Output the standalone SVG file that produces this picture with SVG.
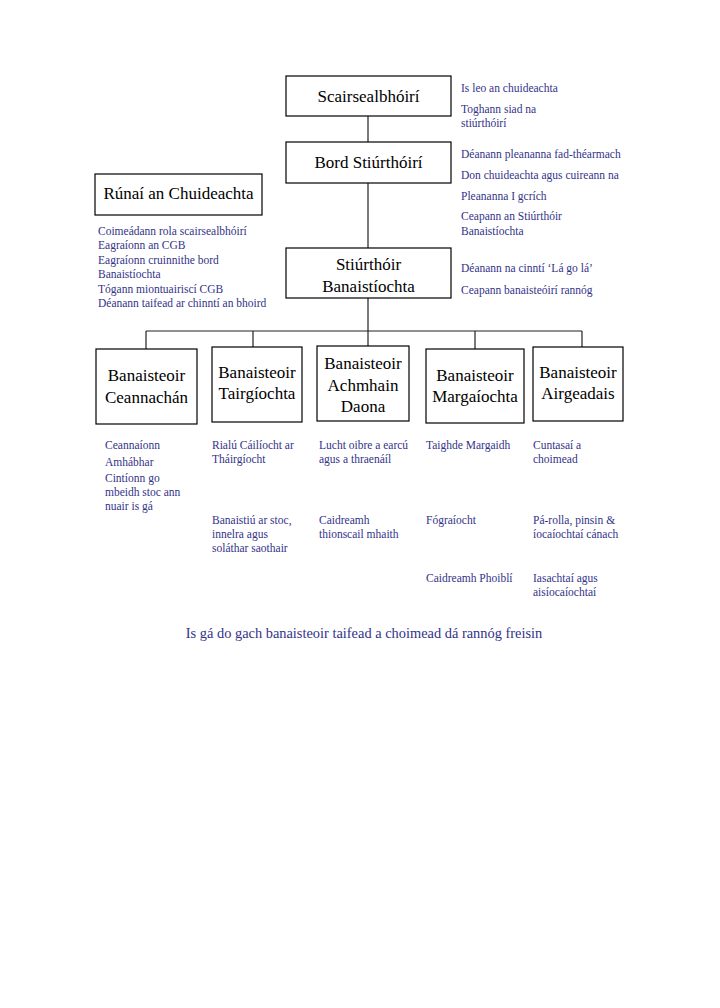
<svg xmlns="http://www.w3.org/2000/svg" width="720" height="1008" viewBox="0 0 720 1008">
<style>
.box{fill:#fff;stroke:#000;stroke-width:1.2}
.t{font-family:"Liberation Serif","Times New Roman",serif;font-size:17px;fill:#000;text-anchor:middle}
.n{font-family:"Liberation Serif","Times New Roman",serif;font-size:11.5px;fill:#333388}
.f{font-family:"Liberation Serif","Times New Roman",serif;font-size:14.4px;fill:#333388;text-anchor:middle}
.c{stroke:#222;stroke-width:1.2;fill:none}
</style>
<rect width="720" height="1008" fill="#fff"/>
<g id="connectors">
<path class="c" d="M368 116V142M368 183V248M368 298V331M146 331H582M146 331V349M253 331V347M368 331V346M475 331V349M582 331V347"/>
</g>
<g id="scairsealbhoiri"><rect class="box" x="286" y="76" width="165" height="40"/><text class="t" x="368.5" y="102">Scairsealbhóirí</text></g>
<g id="bord"><rect class="box" x="286" y="142" width="165" height="41"/><text class="t" x="368.5" y="168">Bord Stiúrthóirí</text></g>
<g id="runai"><rect class="box" x="95" y="174" width="167" height="41"/><text class="t" x="178.5" y="199">Rúnaí an Chuideachta</text></g>
<g id="stiurthoir"><rect class="box" x="286" y="248" width="165" height="50"/><text class="t" x="368.5" y="270">Stiúrthóir</text><text class="t" x="368.5" y="292">Banaistíochta</text></g>
<g id="ceannachan"><rect class="box" x="96" y="349" width="101" height="75"/><text class="t" x="146.5" y="381">Banaisteoir</text><text class="t" x="146.5" y="403">Ceannachán</text></g>
<g id="tairgiochta"><rect class="box" x="212" y="347" width="90" height="75"/><text class="t" x="257" y="378">Banaisteoir</text><text class="t" x="257" y="399">Tairgíochta</text></g>
<g id="achmhain"><rect class="box" x="317" y="346" width="92" height="75"/><text class="t" x="363" y="369">Banaisteoir</text><text class="t" x="363" y="391">Achmhain</text><text class="t" x="363" y="412">Daona</text></g>
<g id="margaiochta"><rect class="box" x="426" y="349" width="98" height="74"/><text class="t" x="475" y="381">Banaisteoir</text><text class="t" x="475" y="402">Margaíochta</text></g>
<g id="airgeadais"><rect class="box" x="533" y="347" width="90" height="74"/><text class="t" x="578" y="378">Banaisteoir</text><text class="t" x="578" y="399">Airgeadais</text></g>
<g id="notes-right">
<text class="n" x="461" y="92">Is leo an chuideachta</text>
<text class="n" x="461" y="113">Toghann siad na</text>
<text class="n" x="461" y="127">stiúrthóirí</text>
<text class="n" x="461" y="158">Déanann pleananna fad-théarmach</text>
<text class="n" x="461" y="179">Don chuideachta agus cuireann na</text>
<text class="n" x="461" y="200">Pleananna I gcrích</text>
<text class="n" x="461" y="220">Ceapann an Stiúrthóir</text>
<text class="n" x="461" y="235">Banaistíochta</text>
<text class="n" x="461" y="272">Déanann na cinntí ‘Lá go lá’</text>
<text class="n" x="461" y="294">Ceapann banaisteóirí rannóg</text>
</g>
<g id="notes-left">
<text class="n" x="98" y="235">Coimeádann rola scairsealbhóirí</text>
<text class="n" x="98" y="249">Eagraíonn an CGB</text>
<text class="n" x="98" y="264">Eagraíonn cruinnithe bord</text>
<text class="n" x="98" y="278">Banaistíochta</text>
<text class="n" x="98" y="293">Tógann miontuairiscí CGB</text>
<text class="n" x="98" y="307">Déanann taifead ar chinntí an bhoird</text>
</g>
<g id="notes-bottom">
<text class="n" x="105" y="449">Ceannaíonn</text>
<text class="n" x="105" y="466">Amhábhar</text>
<text class="n" x="105" y="482">Cintíonn go</text>
<text class="n" x="105" y="496">mbeidh stoc ann</text>
<text class="n" x="105" y="510">nuair is gá</text>
<text class="n" x="212" y="449">Rialú Cáilíocht ar</text>
<text class="n" x="212" y="463">Tháirgíocht</text>
<text class="n" x="212" y="524">Banaistiú ar stoc,</text>
<text class="n" x="212" y="538">innelra agus</text>
<text class="n" x="212" y="552">soláthar saothair</text>
<text class="n" x="319" y="449">Lucht oibre a earcú</text>
<text class="n" x="319" y="463">agus a thraenáíl</text>
<text class="n" x="319" y="524">Caidreamh</text>
<text class="n" x="319" y="538">thionscail mhaith</text>
<text class="n" x="426" y="449">Taighde Margaidh</text>
<text class="n" x="426" y="524">Fógraíocht</text>
<text class="n" x="426" y="582">Caidreamh Phoiblí</text>
<text class="n" x="533" y="449">Cuntasaí a</text>
<text class="n" x="533" y="463">choimead</text>
<text class="n" x="533" y="524">Pá-rolla, pinsin &amp;</text>
<text class="n" x="533" y="538">íocaíochtaí cánach</text>
<text class="n" x="533" y="582">Iasachtaí agus</text>
<text class="n" x="533" y="596">aisíocaíochtaí</text>
</g>
<text class="f" x="364" y="638">Is gá do gach banaisteoir taifead a choimead dá rannóg freisin</text>
</svg>
